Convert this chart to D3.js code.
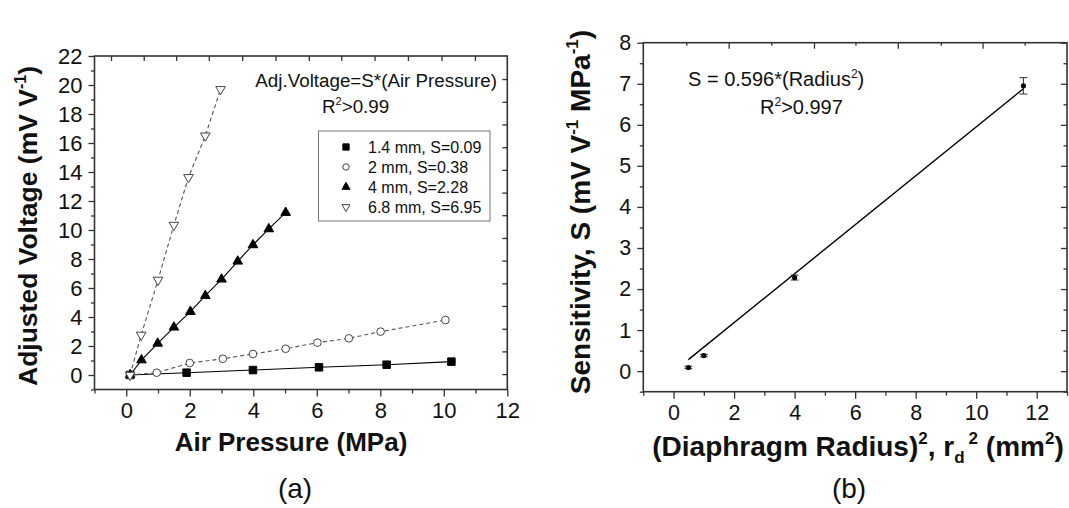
<!DOCTYPE html>
<html>
<head>
<meta charset="utf-8">
<script src="https://cdn.jsdelivr.net/npm/d3@7/dist/d3.min.js"></script>
<style>
  body { margin: 0; background: #fff; }
  svg { font-family: "Liberation Sans", Arial, sans-serif; }
  .tick text { fill: #111; }
</style>
</head>
<body>
<div id="chart"></div>
<script>
// ---- (a) adjusted voltage vs air pressure ----
const p14 = [0.12, 1.9, 3.99, 6.07, 8.2, 10.24];
const v14 = [0, 0.16, 0.34, 0.53, 0.71, 0.92];
const p2 = [0.12, 0.96, 2.0, 3.04, 3.99, 5.02, 6.02, 7.01, 8.01, 10.05];
const v2 = [0, 0.16, 0.83, 1.12, 1.45, 1.81, 2.23, 2.53, 2.99, 3.79];
const p4 = [0.12, 0.48, 0.99, 1.5, 2.02, 2.49, 3.0, 3.51, 3.99, 4.49, 5.02];
const v4 = [0, 1.03, 2.18, 3.29, 4.37, 5.47, 6.6, 7.84, 8.97, 10.07, 11.2];
const p68 = [0.12, 0.47, 1.0, 1.5, 1.96, 2.49, 2.97];
const v68 = [0, 2.76, 6.55, 10.34, 13.63, 16.5, 19.7];
const seriesLabels = ["1.4 mm, S=0.09", "2 mm, S=0.38", "4 mm, S=2.28", "6.8 mm, S=6.95"];

const xTicksA = [-1, 0, 1, 2, 3, 4, 5, 6, 7, 8, 9, 10, 11, 12];
const yTicksA = d3.range(-1, 23, 1);
const topTicksA = [-0.48, 0.55, 1.57, 2.6, 3.65, 4.7, 5.75, 6.77, 7.82, 8.87, 9.93, 10.98];
const rightTicksA = [0.06, 1.63, 3.19, 4.76, 6.32, 7.89, 9.45, 11.02, 12.58, 14.15, 15.71, 17.28, 18.84, 20.41];

// ---- (b) sensitivity vs radius squared ----
const rSq = [0.49, 1, 4, 11.56];
const sens = [0.09, 0.38, 2.28, 6.95];
const sensErr = [0.03, 0.03, 0.06, 0.2];
const fitSlope = 0.596, fitIntercept = -0.01;

const xTicksB = d3.range(-1, 14, 1);
const yTicksB = d3.range(-0.5, 8.01, 0.5);
const topTicksB = [0.42, 1.82, 3.23, 4.64, 6.01, 7.41, 8.83, 10.21, 11.6];

const W = 1069, H = 508;
const svg = d3.select("#chart").append("svg")
  .attr("width", W).attr("height", H);
svg.append("rect").attr("width", W).attr("height", H).attr("fill", "#fff");

const xA = d3.scaleLinear().domain([-1, 12]).range([94.5, 507.3]);
const yA = d3.scaleLinear().domain([-1, 22]).range([389.5, 56]);
const xB = d3.scaleLinear().domain([-1, 13]).range([643.3, 1067]);
const yB = d3.scaleLinear().domain([-0.5, 8]).range([391.7, 42.7]);

const axisColor = "#333";

function styleAxis(g, majorFn, majorLen, minorLen, dir, fs) {
  g.select(".domain").remove();
  g.selectAll(".tick line")
    .attr("stroke", axisColor).attr("stroke-width", 1.3)
    .each(function(d) {
      let len = majorFn(d) ? majorLen : minorLen;
      let l = d3.select(this);
      if (dir === "x") l.attr("x2", l.attr("x2") < 0 ? -len : len);
      else l.attr("y2", l.attr("y2") < 0 ? -len : len);
    });
  g.selectAll(".tick text").attr("font-size", fs || 22);
}

function frame(x, y) {
  svg.append("rect")
    .attr("x", x.range()[0]).attr("y", y.range()[1])
    .attr("width", x.range()[1] - x.range()[0])
    .attr("height", y.range()[0] - y.range()[1])
    .attr("fill", "none").attr("stroke", axisColor).attr("stroke-width", 1.6);
}

// ---------- chart (a) ----------
let evenA = d => Math.abs(d % 2) < 1e-9 && d >= 0;
svg.append("g").attr("transform", "translate(0," + yA.range()[0] + ")")
  .call(d3.axisBottom(xA).tickValues(xTicksA).tickSizeOuter(0).tickSize(7).tickPadding(6)
    .tickFormat(d => evenA(d) ? d : ""))
  .call(g => styleAxis(g, evenA, 7, 4, "y"));
svg.append("g").attr("transform", "translate(" + xA.range()[0] + ",0)")
  .call(d3.axisLeft(yA).tickValues(yTicksA).tickSizeOuter(0).tickSize(6).tickPadding(6)
    .tickFormat(d => evenA(d) ? d : ""))
  .call(g => styleAxis(g, evenA, 6, 3.5, "x"));
svg.append("g").attr("transform", "translate(0," + yA.range()[1] + ")")
  .call(d3.axisTop(xA).tickValues(topTicksA).tickSizeOuter(0).tickFormat(""))
  .call(g => { styleAxis(g, () => true, 5, 5, "y"); g.selectAll(".tick line").attr("y2", 5); });
svg.append("g").attr("transform", "translate(" + xA.range()[1] + ",0)")
  .call(d3.axisRight(yA).tickValues(rightTicksA).tickSizeOuter(0).tickFormat(""))
  .call(g => { styleAxis(g, () => true, 5, 5, "x"); g.selectAll(".tick line").attr("x2", -5); });
frame(xA, yA);

const plotA = svg.append("g");
const lineA = d3.line().x(d => xA(d[0])).y(d => yA(d[1]));
const sA = [
  { p: p14, v: v14, sym: d3.symbolSquare, size: 56, fill: "#000", dash: null, lc: "#000" },
  { p: p2, v: v2, sym: d3.symbolCircle, size: 46, fill: "#fff", dash: "4,3", lc: "#555" },
  { p: p4, v: v4, sym: d3.symbolTriangle, size: 40, fill: "#000", dash: null, lc: "#000" },
  { p: p68, v: v68, sym: d3.symbolTriangle, size: 40, fill: "#fff", dash: "4,3", lc: "#555", flip: true }
];
sA.forEach(s => {
  let pts = s.p.map((p, i) => [p, s.v[i]]);
  plotA.append("path").datum(pts)
    .attr("d", lineA).attr("fill", "none")
    .attr("stroke", s.lc).attr("stroke-width", 1.1)
    .attr("stroke-dasharray", s.dash);
});
sA.forEach(s => {
  let pts = s.p.map((p, i) => [p, s.v[i]]);
  plotA.selectAll(null).data(pts).enter().append("path")
    .attr("d", d3.symbol().type(s.sym).size(s.size))
    .attr("transform", d => "translate(" + xA(d[0]) + "," + yA(d[1]) + ")" + (s.flip ? " rotate(180)" : ""))
    .attr("fill", s.fill)
    .attr("stroke", s.fill === "#fff" ? "#444" : "#000")
    .attr("stroke-width", 1);
});

// legend
const leg = svg.append("g");
leg.append("rect").attr("x", 318.5).attr("y", 131).attr("width", 171.5).attr("height", 90)
  .attr("fill", "#fff").attr("stroke", "#777").attr("stroke-width", 1);
seriesLabels.forEach((t, i) => {
  let cy = 147 + i * 20;
  let s = sA[i];
  leg.append("path")
    .attr("d", d3.symbol().type(s.sym).size(s.size * 0.7))
    .attr("transform", "translate(346," + cy + ")" + (s.flip ? " rotate(180)" : ""))
    .attr("fill", s.fill).attr("stroke", s.fill === "#fff" ? "#444" : "#000");
  leg.append("text").attr("x", 368).attr("y", cy + 6)
    .attr("font-size", 16).attr("fill", "#111").text(t);
});

// annotation (a)
svg.append("text").attr("x", 497).attr("y", 87).attr("text-anchor", "end")
  .attr("font-size", 18.8).attr("fill", "#111").text("Adj.Voltage=S*(Air Pressure)");
let r2a = svg.append("text").attr("x", 322).attr("y", 113)
  .attr("font-size", 18.8).attr("fill", "#111");
r2a.append("tspan").text("R");
r2a.append("tspan").attr("font-size", 11).attr("dy", -8).text("2");
r2a.append("tspan").attr("dy", 8).text(">0.99");

// titles (a)
svg.append("text").attr("x", 291).attr("y", 451).attr("text-anchor", "middle")
  .attr("font-size", 26).attr("font-weight", "bold").attr("fill", "#111")
  .text("Air Pressure (MPa)");
let ytA = svg.append("text").attr("transform", "translate(37,226) rotate(-90)")
  .attr("text-anchor", "middle").attr("font-size", 26.5).attr("font-weight", "bold").attr("fill", "#111");
ytA.append("tspan").text("Adjusted Voltage (mV V");
ytA.append("tspan").attr("font-size", 16).attr("dy", -11).text("-1");
ytA.append("tspan").attr("dy", 11).text(")");
svg.append("text").attr("x", 295).attr("y", 498).attr("text-anchor", "middle")
  .attr("font-size", 28).attr("fill", "#111").text("(a)");

// ---------- chart (b) ----------
let evenB = d => Math.abs(d % 2) < 1e-9 && d >= 0;
let intB = d => Math.abs(d % 1) < 1e-9 && d >= 0;
svg.append("g").attr("transform", "translate(0," + yB.range()[0] + ")")
  .call(d3.axisBottom(xB).tickValues(xTicksB).tickSizeOuter(0).tickSize(7).tickPadding(6)
    .tickFormat(d => evenB(d) ? d : ""))
  .call(g => styleAxis(g, evenB, 7, 4, "y", 21.5));
svg.append("g").attr("transform", "translate(" + xB.range()[0] + ",0)")
  .call(d3.axisLeft(yB).tickValues(yTicksB).tickSizeOuter(0).tickSize(6).tickPadding(6)
    .tickFormat(d => intB(d) ? d : ""))
  .call(g => styleAxis(g, intB, 6, 3.5, "x", 21.5));
svg.append("g").attr("transform", "translate(0," + yB.range()[1] + ")")
  .call(d3.axisTop(xB).tickValues(topTicksB).tickSizeOuter(0).tickFormat(""))
  .call(g => {
    styleAxis(g, () => true, 5, 5, "y");
    g.selectAll(".tick line").attr("y2", (d, i) => i % 2 ? 6 : 3);
  });
svg.append("g").attr("transform", "translate(" + xB.range()[1] + ",0)")
  .call(d3.axisRight(yB).tickValues(yTicksB).tickSizeOuter(0).tickFormat(""))
  .call(g => {
    styleAxis(g, () => true, 5, 5, "x");
    g.selectAll(".tick line").attr("x2", d => intB(d) ? -6 : -3.5);
  });
frame(xB, yB);

const plotB = svg.append("g");
const fitX = [rSq[0], rSq[rSq.length - 1]];
plotB.append("line")
  .attr("x1", xB(fitX[0])).attr("y1", yB(fitSlope * fitX[0] + fitIntercept))
  .attr("x2", xB(fitX[1])).attr("y2", yB(fitSlope * fitX[1] + fitIntercept))
  .attr("stroke", "#000").attr("stroke-width", 1.4);
rSq.forEach((r, i) => {
  let cx = xB(r);
  let y0 = yB(sens[i] - sensErr[i]), y1 = yB(sens[i] + sensErr[i]);
  plotB.append("line").attr("x1", cx).attr("x2", cx).attr("y1", y0).attr("y2", y1)
    .attr("stroke", "#333").attr("stroke-width", 1);
  [y0, y1].forEach(yy => plotB.append("line")
    .attr("x1", cx - 4).attr("x2", cx + 4).attr("y1", yy).attr("y2", yy)
    .attr("stroke", "#333").attr("stroke-width", 1));
  plotB.append("circle").attr("cx", cx).attr("cy", yB(sens[i])).attr("r", 2.6).attr("fill", "#000");
});

// annotation (b)
let eqB = svg.append("text").attr("x", 688).attr("y", 86)
  .attr("font-size", 20).attr("fill", "#111");
eqB.append("tspan").text("S = 0.596*(Radius");
eqB.append("tspan").attr("font-size", 12).attr("dy", -8).text("2");
eqB.append("tspan").attr("dy", 8).text(")");
let r2b = svg.append("text").attr("x", 760).attr("y", 114)
  .attr("font-size", 20).attr("fill", "#111");
r2b.append("tspan").text("R");
r2b.append("tspan").attr("font-size", 12).attr("dy", -8).text("2");
r2b.append("tspan").attr("dy", 8).text(">0.997");

// titles (b)
let xtB = svg.append("text").attr("x", 858).attr("y", 456).attr("text-anchor", "middle")
  .attr("font-size", 28).attr("font-weight", "bold").attr("fill", "#111");
xtB.append("tspan").text("(Diaphragm Radius)");
xtB.append("tspan").attr("font-size", 17).attr("dy", -12).text("2");
xtB.append("tspan").attr("dy", 12).text(", r");
xtB.append("tspan").attr("font-size", 17).attr("dy", 7).text("d");
xtB.append("tspan").attr("font-size", 17).attr("dx", 4).attr("dy", -19).text("2");
xtB.append("tspan").attr("dy", 12).text("  (mm");
xtB.append("tspan").attr("font-size", 17).attr("dy", -12).text("2");
xtB.append("tspan").attr("dy", 12).text(")");
let ytB = svg.append("text").attr("transform", "translate(590,212) rotate(-90)")
  .attr("text-anchor", "middle").attr("font-size", 28).attr("font-weight", "bold").attr("fill", "#111");
ytB.append("tspan").text("Sensitivity, S (mV V");
ytB.append("tspan").attr("font-size", 17).attr("dy", -12).text("-1");
ytB.append("tspan").attr("dy", 12).text("  MPa");
ytB.append("tspan").attr("font-size", 17).attr("dy", -12).text("-1");
ytB.append("tspan").attr("dy", 12).text(")");
svg.append("text").attr("x", 849).attr("y", 498).attr("text-anchor", "middle")
  .attr("font-size", 28).attr("fill", "#111").text("(b)");
</script>
</body>
</html>
